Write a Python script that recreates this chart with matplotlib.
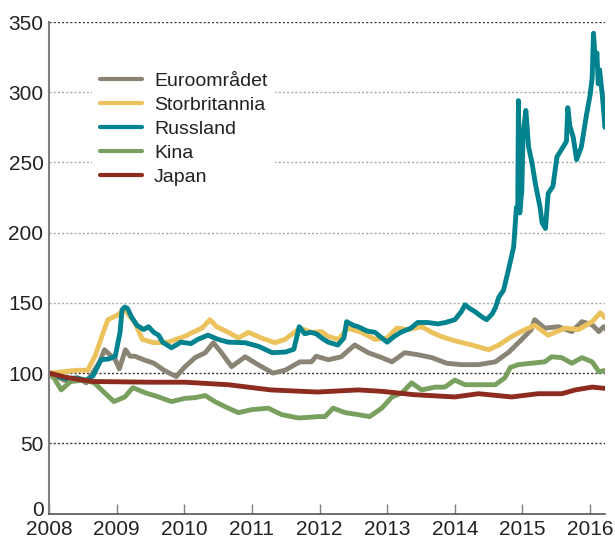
import matplotlib
matplotlib.use("Agg")
import matplotlib.pyplot as plt
import matplotlib.transforms as mtransforms

plt.rcParams['font.family'] = ['Liberation Sans', 'DejaVu Sans']

labels = ["Euroområdet", "Storbritannia", "Russland", "Kina", "Japan"]
colors = ["#8a8475", "#ebc25c", "#00838f", "#79a05e", "#8c2b1e"]

euro_t = [2008.0, 2008.1, 2008.22, 2008.32, 2008.42, 2008.55, 2008.67, 2008.75, 2008.82, 2008.9, 2008.98,
          2009.04, 2009.13, 2009.2, 2009.27, 2009.4, 2009.55, 2009.7, 2009.88, 2010.0, 2010.16, 2010.31, 2010.43,
          2010.55, 2010.7, 2010.9, 2011.09, 2011.31, 2011.49, 2011.71, 2011.88, 2011.95, 2012.13, 2012.32,
          2012.52, 2012.72, 2012.92, 2013.07, 2013.26, 2013.46, 2013.66, 2013.88, 2014.1, 2014.35, 2014.6,
          2014.8, 2014.99, 2015.13, 2015.18, 2015.33, 2015.53, 2015.73, 2015.88, 2016.03, 2016.13, 2016.2,
          2016.24]
euro_v = [100, 98, 95, 94, 96.7, 93, 102, 108, 116.6, 113, 109.5,
          103, 116.6, 112, 112, 109.5, 107, 102, 97.5, 104, 111, 114.5, 121.6,
          114.5, 104.6, 111.6, 106, 100, 102, 108, 108, 112, 109.5, 111.6,
          120, 114.5, 111, 108, 114.5, 113, 111, 107, 106, 106, 108,
          115, 124, 131, 138, 132, 133, 129.5, 136.6, 134.4, 129.5, 133,
          131]

uk_t = [2008.0, 2008.22, 2008.42, 2008.57, 2008.68, 2008.78, 2008.87, 2009.0, 2009.12, 2009.27, 2009.38,
        2009.55, 2009.76, 2010.0, 2010.11, 2010.26, 2010.38, 2010.48, 2010.65, 2010.8, 2010.95,
        2011.14, 2011.34, 2011.49, 2011.71, 2011.88, 2012.03, 2012.13, 2012.28, 2012.42, 2012.62,
        2012.82, 2013.0, 2013.14, 2013.31, 2013.51, 2013.66, 2013.8, 2014.0, 2014.25, 2014.5,
        2014.65, 2014.84, 2015.04, 2015.18, 2015.38, 2015.63, 2015.83, 2016.03, 2016.15, 2016.22]
uk_v = [100, 101, 102, 102, 112, 126, 138, 141, 145, 136, 124,
        121.6, 122, 126, 128.7, 132, 138, 133, 129, 125, 129,
        125, 121.6, 124, 132, 129, 129.5, 126, 124, 132, 129,
        124, 125, 132, 131, 133, 129, 126, 123, 120, 116.6,
        120, 126, 131, 134, 127, 132, 131, 136.6, 143, 139.4]

rus_t = [2008.0, 2008.1, 2008.25, 2008.4, 2008.55, 2008.65, 2008.77, 2008.88, 2008.98,
         2009.05, 2009.08, 2009.12, 2009.16, 2009.22, 2009.3, 2009.4, 2009.47, 2009.55, 2009.62,
         2009.68, 2009.81, 2009.95, 2010.1, 2010.2, 2010.35, 2010.5, 2010.65, 2010.9, 2011.1,
         2011.3, 2011.5, 2011.62, 2011.7, 2011.78, 2011.87, 2011.95, 2012.06, 2012.13, 2012.27,
         2012.36, 2012.4, 2012.5, 2012.57, 2012.7, 2012.82, 2012.92, 2013.0, 2013.1, 2013.2,
         2013.35, 2013.45, 2013.6, 2013.75, 2013.86, 2014.0, 2014.1, 2014.15, 2014.22, 2014.3,
         2014.4, 2014.47, 2014.55, 2014.6, 2014.65, 2014.72, 2014.8, 2014.87, 2014.91, 2014.93,
         2014.94, 2014.96, 2014.99, 2015.01, 2015.05, 2015.09, 2015.14, 2015.19, 2015.26, 2015.29,
         2015.34, 2015.38, 2015.45, 2015.51, 2015.6, 2015.65, 2015.67, 2015.7, 2015.75, 2015.8,
         2015.87, 2015.95, 2016.0, 2016.03, 2016.05, 2016.08, 2016.1, 2016.12, 2016.14, 2016.18,
         2016.22, 2016.24]
rus_v = [100, 98, 96, 96.5, 95, 98, 109.5, 110, 112,
         129, 145, 147, 146, 140, 134, 131, 133, 129, 127,
         122, 118, 122, 121, 124, 127, 124, 122, 121.6, 119,
         114.5, 115, 117, 133, 128, 129, 128, 124, 122, 120,
         125, 136.6, 134, 133, 130, 129, 125, 122, 126, 129,
         132, 136, 136, 135, 136, 138, 144, 148.6, 146, 143.7,
         140, 138, 142, 146.5, 154, 159, 175, 190, 218, 216,
         294, 214, 230, 271, 287, 261, 250, 235, 218, 207,
         203, 228, 233, 254, 261, 265, 289, 276, 268, 252,
         261, 285, 298, 310, 342, 320, 328, 306, 316, 298,
         275, 280]

kina_t = [2008.0, 2008.08, 2008.18, 2008.32, 2008.52, 2008.67, 2008.82, 2008.96, 2009.12, 2009.24,
          2009.42, 2009.62, 2009.81, 2010.01, 2010.16, 2010.31, 2010.45, 2010.65, 2010.8, 2011.0,
          2011.24, 2011.44, 2011.69, 2011.98, 2012.08, 2012.2, 2012.38, 2012.57, 2012.74, 2012.92,
          2013.07, 2013.22, 2013.36, 2013.51, 2013.71, 2013.85, 2014.0, 2014.15, 2014.35, 2014.6,
          2014.74, 2014.82, 2014.94, 2015.13, 2015.33, 2015.43, 2015.58, 2015.73, 2015.88, 2016.03,
          2016.13, 2016.24]
kina_v = [100, 96, 88, 94, 95, 93, 86, 79.7, 83, 89.6,
          86, 83, 79.7, 82, 82.5, 84, 79.7, 75, 71.8, 74,
          75, 70.4, 68, 69, 69, 75, 71.8, 70.4, 69, 75,
          83, 86, 93, 88, 90, 90, 95, 91.7, 91.7, 91.7,
          96.7, 104, 106, 107, 108, 111.6, 111, 107, 111, 108,
          101, 102]

jap_t = [2008.0, 2008.25, 2008.5, 2008.65, 2009.5, 2010.01, 2010.65, 2011.28, 2011.97, 2012.57,
         2012.92, 2013.4, 2014.0, 2014.35, 2014.84, 2015.23, 2015.58, 2015.78, 2016.03, 2016.24]
jap_v = [100, 97, 95, 94, 93.5, 93.5, 91.7, 88, 86.5, 88,
         87, 84.6, 83, 85.3, 83, 85.3, 85.3, 88, 90, 89]

series = [(euro_t, euro_v), (uk_t, uk_v), (rus_t, rus_v), (kina_t, kina_v), (jap_t, jap_v)]

years = list(range(2008, 2017))
yticks = [0, 50, 100, 150, 200, 250, 300, 350]

fig = plt.figure(figsize=(6.15, 5.39), dpi=100)
ax = fig.add_axes([49/615, 1 - 513.5/539, (605 - 49)/615, (513.5 - 22)/539])

for (t, v), lab, c in zip(series, labels, colors):
    ax.plot(t, v, color=c, lw=3.5, label=lab, solid_joinstyle='round', solid_capstyle='round')

ax.set_xlim(2008, 2016.22)
ax.set_ylim(0, 350)
ax.set_xticks(years)
ax.set_xticklabels([str(y) for y in years])
ax.set_yticks(yticks)
ax.set_yticklabels([str(y) for y in yticks])

dark_lines = {350, 100, 50}
for yv in yticks[1:]:
    col = "#333333" if yv in dark_lines else "#aaaaaa"
    ax.axhline(yv, color=col, lw=1.0, ls=(0, (1.5, 1.5)), zorder=0.5)

for s in ['top', 'right']:
    ax.spines[s].set_visible(False)
ax.spines['left'].set_color('#7f7f7f')
ax.spines['left'].set_linewidth(1.5)
ax.spines['bottom'].set_color('#555555')
ax.spines['bottom'].set_linewidth(1.2)

ax.tick_params(axis='x', direction='in', length=7, width=1, color='#7f7f7f',
               labelsize=15, pad=5, labelcolor='#222222')
ax.tick_params(axis='y', length=0, labelsize=15, pad=4, labelcolor='#222222')

# raise the "0" label slightly as in the reference
zero_lab = ax.get_yticklabels()[0]
zero_lab.set_transform(zero_lab.get_transform() +
                       mtransforms.ScaledTranslation(0, 5/100, fig.dpi_scale_trans))

leg = ax.legend(loc='upper left', bbox_to_anchor=(0.077, 0.914), fontsize=14,
                frameon=True, framealpha=1, edgecolor='none', facecolor='white',
                handlelength=2.2, handletextpad=0.6, labelspacing=0.33, borderpad=0.4,
                borderaxespad=0, fancybox=False)
for line in leg.get_lines():
    line.set_linewidth(3.0)
for txt in leg.get_texts():
    txt.set_color('#222222')

fig.savefig("out.png", dpi=100)
